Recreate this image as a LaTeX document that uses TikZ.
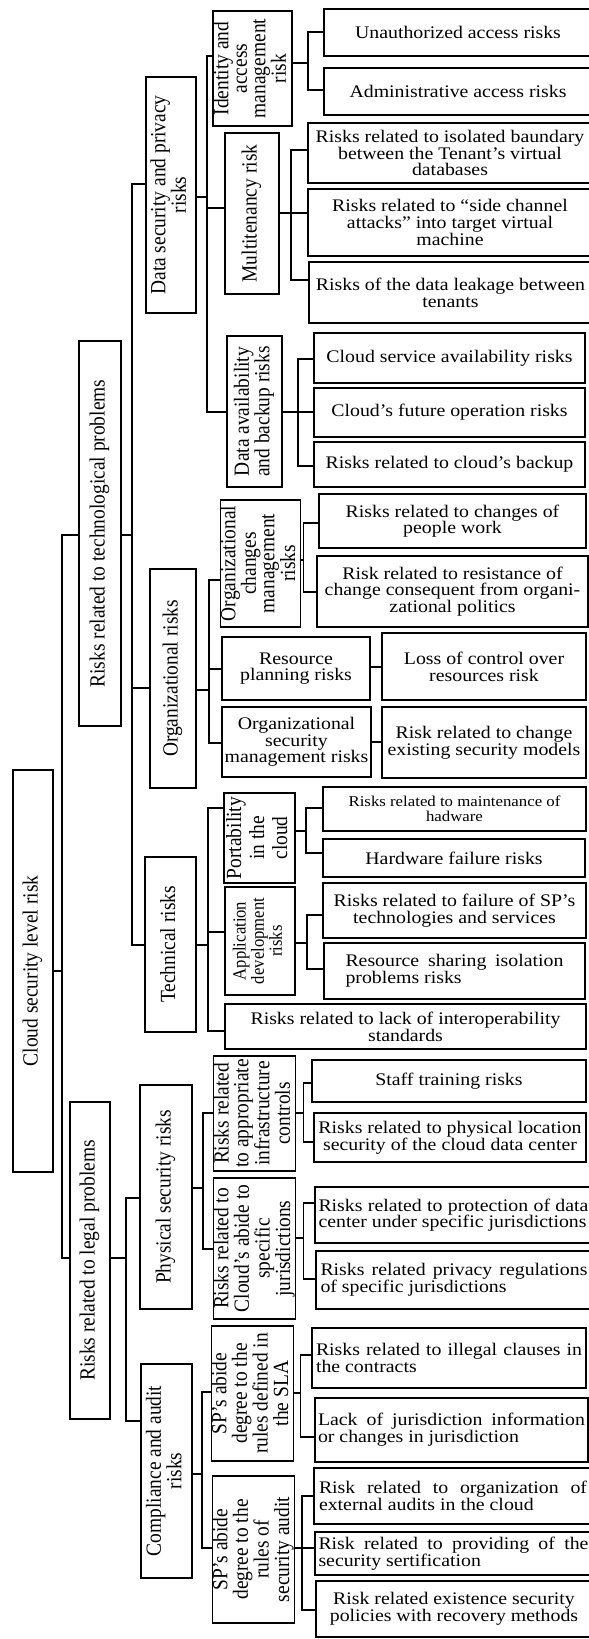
\documentclass[tikz,border=0pt]{standalone}
\usepackage{fontspec}
\setmainfont{Liberation Serif}
\newfontfamily\hf[FakeStretch=1.12]{Liberation Serif}
\newfontfamily\vf[FakeStretch=0.9]{Liberation Serif}
\newcommand\vtxt[1]{\rotatebox{90}{\begin{tabular}{@{}c@{}}#1\end{tabular}}}
\newcommand\mkbox[7]{\node[box,minimum width={(#4)-(#2)},minimum height={(#5)-(#3)},#6] (#1) at ({((#2)+(#4))/2},{((#3)+(#5))/2}) {#7};}
\newcommand\conn[5]{\draw[conn] (#1.east |- 0,#2) -- (#3,#2) -- (#3,#5) -- (#4.west |- 0,#5);}
\tikzset{
 box/.style={draw, line width=1.5pt, inner sep=0pt, outer sep=0pt, font=\hf\fontsize{17.7}{16.7}\selectfont, align=center},
 vbox/.style={box, font=\vf\fontsize{21.6}{18.5}\selectfont},
 conn/.style={line width=1.4pt},
 jt/.style={align=justify, text width=#1}
}
\begin{document}
\begin{tikzpicture}[x=1pt,y=-1pt]
\fill[white] (0,0) rectangle (589,1639);
\useasboundingbox (0,0) rectangle (589,1639);
% level 0-2
\mkbox{root}{13}{770}{53}{1172}{vbox}{\vtxt{Cloud security level risk}}
\mkbox{tech}{79}{341}{121}{726}{vbox}{\vtxt{Risks related to technological problems}}
\mkbox{legal}{70}{1102}{110}{1419}{vbox}{\vtxt{Risks related to legal problems}}
\mkbox{ds}{146}{77}{196}{313}{vbox}{\vtxt{Data security and privacy\\risks}}
\mkbox{org}{150}{569}{196}{788}{vbox}{\vtxt{Organizational risks}}
\mkbox{tec}{145}{857}{196}{1032}{vbox}{\vtxt{Technical risks}}
\mkbox{phys}{140}{1085}{192}{1309}{vbox}{\vtxt{Physical security risks}}
\mkbox{comp}{141}{1364}{192}{1578}{vbox}{\vtxt{Compliance and audit\\risks}}
% level 3
\mkbox{iam}{213}{11}{292}{126}{vbox}{\vtxt{Identity and\\access\\management\\risk}}
\mkbox{mt}{225}{133}{279}{294}{vbox}{\vtxt{Multitenancy risk}}
\mkbox{dab}{227}{336}{282}{487}{vbox}{\vtxt{Data availability\\and backup risks}}
\mkbox{ocm}{225}{500}{296}{627}{vbox}{\vtxt{Organizational\\changes\\management\\risks}}
\mkbox{rp}{222}{637}{370}{700}{}{Resource\\planning risks}
\mkbox{osm}{222}{707}{371}{777}{}{Organizational\\security\\management risks}
\mkbox{port}{224}{793}{295}{883}{vbox,font=\vf\fontsize{21.6}{23}\selectfont}{\vtxt{Portability\\in the\\cloud}}
\mkbox{app}{225}{887}{295}{995}{vbox,font=\vf\fontsize{18.5}{17.5}\selectfont}{\vtxt{Application\\development\\risks}}
\mkbox{interop}{225}{1004}{586}{1049}{}{Risks related to lack of interoperability\\standards}
\mkbox{infra}{215}{1056}{294}{1171}{vbox}{\vtxt{Risks related\\to appropriate\\infrastructure\\controls}}
\mkbox{jur}{215}{1178}{294}{1319}{vbox}{\vtxt{Risks related to\\Cloud’s abide to\\specific\\jurisdictions}}
\mkbox{sla}{214}{1326}{291}{1461}{vbox}{\vtxt{SP’s abide\\degree to the\\rules defined in\\the SLA}}
\mkbox{aud}{216}{1476}{291}{1623}{vbox}{\vtxt{SP’s abide\\degree to the\\rules of\\security audit}}
% leaves
\mkbox{l1}{324}{9}{592}{56}{}{Unauthorized access risks}
\mkbox{l2}{324}{68}{592}{115}{}{Administrative access risks}
\mkbox{l3}{308}{123}{592}{183}{}{Risks related to isolated baundary\\between the Tenant’s virtual\\databases}
\mkbox{l4}{308}{189}{592}{256}{}{Risks related to “side channel\\attacks” into target virtual\\machine}
\mkbox{l5}{309}{262}{592}{323}{}{Risks of the data leakage between\\tenants}
\mkbox{l6}{314}{333}{585}{383}{}{Cloud service availability risks}
\mkbox{l7}{314}{388}{585}{437}{}{Cloud’s future operation risks}
\mkbox{l8}{314}{442}{585}{487}{}{Risks related to cloud’s backup}
\mkbox{l9}{319}{494}{586}{548}{}{Risks related to changes of\\people work}
\mkbox{l10}{317}{556}{588}{627}{}{Risk related to resistance of\\change consequent from organi-\\zational politics}
\mkbox{l11}{382}{633}{586}{700}{}{Loss of control over\\resources risk}
\mkbox{l12}{382}{707}{586}{778}{}{Risk related to change\\existing security models}
\mkbox{l13}{323}{787}{586}{831}{font=\hf\fontsize{15}{14.5}\selectfont}{Risks related to maintenance of\\hadware}
\mkbox{l14}{323}{839}{585}{877}{}{Hardware failure risks}
\mkbox{l15}{323}{883}{586}{938}{}{Risks related to failure of SP’s\\technologies and services}
\mkbox{l16}{324}{943}{585}{999}{jt=218}{Resource sharing isolation\linebreak problems risks}
\mkbox{l17}{312}{1060}{586}{1102}{}{Staff training risks}
\mkbox{l18}{314}{1113}{586}{1162}{}{Risks related to physical location\\security of the cloud data center}
\mkbox{l19}{315}{1187}{592}{1243}{jt=270}{Risks related to protection of data\linebreak center under specific jurisdictions}
\mkbox{l20}{316}{1251}{592}{1309}{jt=267}{Risks related privacy regulations\linebreak of specific jurisdictions}
\mkbox{l21}{312}{1328}{586}{1388}{jt=266}{Risks related to illegal clauses in\linebreak the contracts}
\mkbox{l22}{315}{1398}{588}{1462}{jt=267}{Lack of jurisdiction information\linebreak or changes in jurisdiction}
\mkbox{l23}{314}{1468}{592}{1524}{jt=268}{Risk related to organization of\linebreak external audits in the cloud}
\mkbox{l24}{315}{1532}{592}{1575}{jt=270}{Risk related to providing of the\linebreak security sertification}
\mkbox{l25}{316}{1581}{592}{1637}{}{Risk related existence security\\policies with recovery methods}
% connectors
\conn{root}{971}{62}{tech}{535}
\conn{root}{971}{62}{legal}{1258}
\conn{tech}{535}{132}{ds}{184}
\conn{tech}{535}{132}{org}{688}
\conn{tech}{535}{132}{tec}{945}
\conn{legal}{1258}{126}{phys}{1198}
\conn{legal}{1258}{126}{comp}{1421}
\conn{ds}{197}{207}{iam}{56}
\conn{ds}{197}{207}{mt}{208}
\conn{ds}{197}{207}{dab}{412}
\conn{org}{690}{209}{ocm}{580}
\conn{org}{690}{209}{rp}{669}
\conn{org}{690}{209}{osm}{743}
\conn{tec}{945}{208}{port}{808}
\conn{tec}{945}{208}{app}{932}
\conn{tec}{945}{208}{interop}{1031}
\conn{phys}{1188}{203}{infra}{1113}
\conn{phys}{1188}{203}{jur}{1249}
\conn{comp}{1474}{202}{sla}{1392}
\conn{comp}{1474}{202}{aud}{1548}
\conn{iam}{63}{308}{l1}{32}
\conn{iam}{63}{308}{l2}{90}
\conn{mt}{213}{291}{l3}{150}
\conn{mt}{213}{291}{l4}{213}
\conn{mt}{213}{291}{l5}{280}
\conn{dab}{412}{298}{l6}{359}
\conn{dab}{412}{298}{l7}{412}
\conn{dab}{412}{298}{l8}{466}
\conn{ocm}{560}{303.5}{l9}{523}
\conn{ocm}{560}{303.5}{l10}{592}
\conn{rp}{667}{376}{l11}{667}
\conn{osm}{742}{376}{l12}{742}
\conn{port}{831}{306}{l13}{808}
\conn{port}{831}{306}{l14}{853}
\conn{app}{943}{307}{l15}{915}
\conn{app}{943}{307}{l16}{969}
\conn{infra}{1113}{303.5}{l17}{1083}
\conn{infra}{1113}{303.5}{l18}{1142}
\conn{jur}{1238}{303.5}{l19}{1203}
\conn{jur}{1238}{303.5}{l20}{1279}
\conn{sla}{1393}{300.5}{l21}{1355}
\conn{sla}{1393}{300.5}{l22}{1437}
\conn{aud}{1548}{302}{l23}{1496}
\conn{aud}{1548}{302}{l24}{1548}
\conn{aud}{1548}{302}{l25}{1610}
\end{tikzpicture}
\end{document}
